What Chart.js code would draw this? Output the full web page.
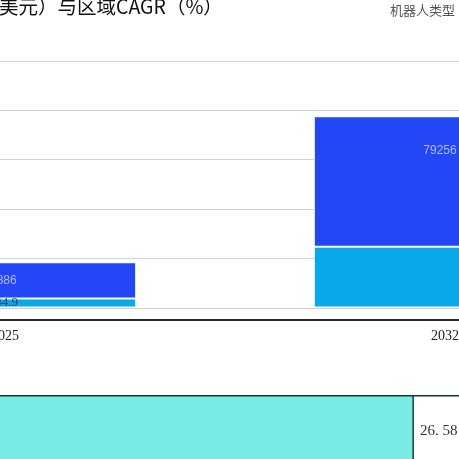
<!DOCTYPE html>
<html>
<head>
<meta charset="utf-8">
<script src="https://cdn.jsdelivr.net/npm/chart.js@4.4.1/dist/chart.umd.min.js"></script>
<style>
  html, body { margin: 0; padding: 0; width: 459px; height: 459px; overflow: hidden; background: #ffffff; position: relative; }
  #main { position: absolute; left: -215px; top: 0px; }
  #cagr { position: absolute; left: 0px; top: 395px; }
  .title { position: absolute; left: -1px; top: -6px; font: 19.5px "Noto Sans CJK SC", sans-serif; color: #111; white-space: nowrap; line-height: 24px; }
  .legendTitle { position: absolute; left: 390px; top: 1px; font: 13px "Noto Sans CJK SC", sans-serif; color: #555; white-space: nowrap; line-height: 17px; }
</style>
</head>
<body>
<canvas id="main" width="880" height="360"></canvas>
<canvas id="cagr" width="459" height="71"></canvas>
<div class="title">美元）与区域CAGR（%）</div>
<div class="legendTitle">机器人类型</div>
<script>
// ---- data ----
const years = ['2025', '2032'];
const seriesLowerName = '类型1';
const seriesLowerValues = [5844.9, 37200];
const seriesLowerShowLabel = [true, false];
const seriesUpperName = '类型2';
const seriesUpperValues = [21886, 79256];
const yTickValues = [0, 30000, 60000, 90000, 120000, 150000];

const regionNames = ['区域'];
const regionCagr = [26.58];

// ---- top stacked bar chart ----
const labelPlugin = {
  id: 'barLabels',
  afterDatasetsDraw(chart) {
    const ctx = chart.ctx;
    chart.data.datasets.forEach((ds, di) => {
      const meta = chart.getDatasetMeta(di);
      meta.data.forEach((bar, i) => {
        if (ds.showLabel && !ds.showLabel[i]) return;
        const top = Math.min(bar.y, bar.base);
        const h = Math.abs(bar.base - bar.y);
        const y = top + Math.min(h / 2, 34);
        ctx.save();
        ctx.font = ds.labelFont;
        ctx.fillStyle = ds.labelColor;
        ctx.textAlign = 'center';
        ctx.textBaseline = 'middle';
        ctx.fillText(String(ds.data[i]), bar.x - 5, y);
        ctx.restore();
      });
    });
  }
};
const axisLinePlugin = {
  id: 'axisLine',
  afterDraw(chart) {
    const ctx = chart.ctx;
    const y = chart.scales.y.getPixelForValue(0) + 12;
    ctx.save();
    ctx.strokeStyle = '#2a2a2a';
    ctx.lineWidth = 2;
    ctx.beginPath();
    ctx.moveTo(0, y);
    ctx.lineTo(chart.width, y);
    ctx.stroke();
    ctx.restore();
  }
};

new Chart(document.getElementById('main'), {
  type: 'bar',
  data: {
    labels: years,
    datasets: [
      {
        label: seriesLowerName,
        data: seriesLowerValues,
        showLabel: seriesLowerShowLabel,
        backgroundColor: '#09a8e8',
        borderColor: 'rgba(235,250,255,0.95)',
        borderWidth: 1,
        borderSkipped: false,
        labelFont: '13px "Liberation Serif", serif',
        labelColor: '#17457a'
      },
      {
        label: seriesUpperName,
        data: seriesUpperValues,
        backgroundColor: '#2347f5',
        borderColor: 'rgba(235,250,255,0.95)',
        borderWidth: 1,
        borderSkipped: false,
        labelFont: '12px "Liberation Sans", sans-serif',
        labelColor: 'rgba(205,215,255,0.8)'
      }
    ]
  },
  options: {
    responsive: false,
    animation: false,
    devicePixelRatio: 1,
    layout: { padding: { top: 61, left: 0, right: 0, bottom: 0 } },
    plugins: { legend: { display: false }, title: { display: false }, tooltip: { enabled: false } },
    datasets: { bar: { categoryPercentage: 1.0, barPercentage: 0.596 } },
    scales: {
      x: {
        stacked: true,
        offset: true,
        grid: { display: false, drawTicks: false },
        border: { display: false },
        ticks: { color: '#222', font: { family: 'Liberation Serif', size: 14 }, padding: 20 },
        afterFit(scale) { scale.height = 52; }
      },
      y: {
        stacked: true,
        min: 0,
        max: yTickValues[yTickValues.length - 1],
        afterBuildTicks(scale) { scale.ticks = yTickValues.map(v => ({ value: v })); },
        ticks: { display: false },
        grid: { color: '#d2d2d2', lineWidth: 1, drawTicks: false },
        border: { display: false },
        afterFit(scale) { scale.width = 0; }
      }
    }
  },
  plugins: [labelPlugin, axisLinePlugin]
});

// ---- bottom CAGR bar ----
const cagrPlugin = {
  id: 'cagrDecor',
  afterDraw(chart) {
    const ctx = chart.ctx;
    const area = chart.chartArea;
    ctx.save();
    ctx.strokeStyle = '#1d3333';
    ctx.lineWidth = 1.5;
    ctx.beginPath();
    ctx.moveTo(0, area.top - 0.25);
    ctx.lineTo(chart.width, area.top - 0.25);
    ctx.stroke();
    const meta = chart.getDatasetMeta(0);
    meta.data.forEach((bar, i) => {
      ctx.font = '15px "Liberation Serif", serif';
      ctx.fillStyle = '#333';
      ctx.textAlign = 'left';
      ctx.textBaseline = 'middle';
      ctx.fillText(regionCagr[i].toFixed(2).replace('.', '. '), bar.x + 6, bar.y);
    });
    ctx.restore();
  }
};

new Chart(document.getElementById('cagr'), {
  type: 'bar',
  data: {
    labels: regionNames,
    datasets: [{
      label: 'CAGR',
      data: regionCagr,
      backgroundColor: '#78ece4',
      borderColor: '#1f4f50',
      borderWidth: { top: 0, right: 2, bottom: 0, left: 0 },
      borderSkipped: 'start',
      categoryPercentage: 1.0,
      barPercentage: 1.0
    }]
  },
  options: {
    indexAxis: 'y',
    responsive: false,
    animation: false,
    devicePixelRatio: 1,
    layout: { padding: { top: 1, right: 45, left: 0, bottom: 0 } },
    plugins: { legend: { display: false }, title: { display: false }, tooltip: { enabled: false } },
    scales: {
      x: { display: false, min: 0, max: Math.max(...regionCagr) },
      y: { display: false }
    }
  },
  plugins: [cagrPlugin]
});
</script>
</body>
</html>
